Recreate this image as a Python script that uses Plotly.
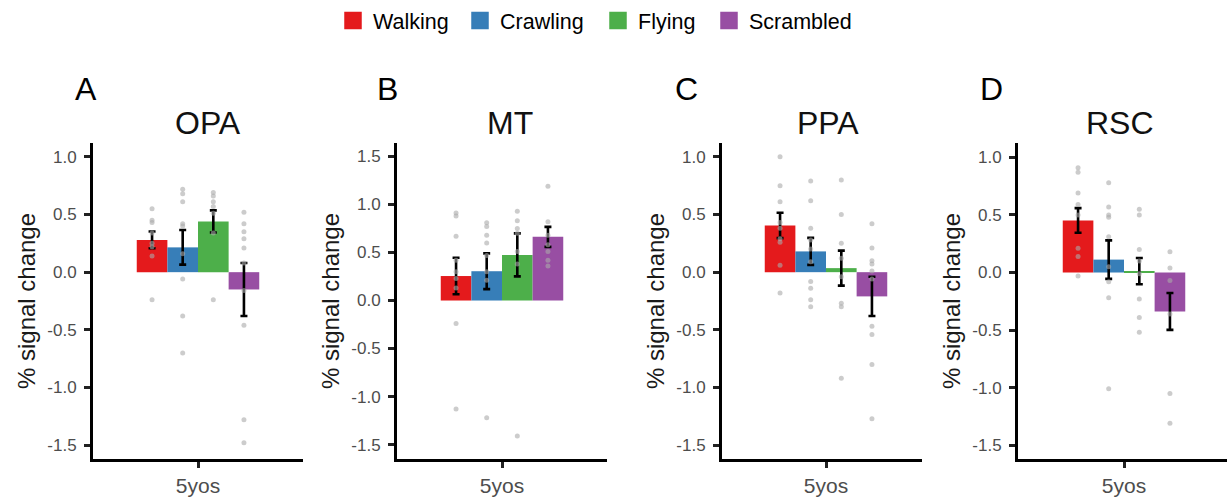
import plotly.graph_objects as go

# ---------------- data ----------------
conditions = ["Walking", "Crawling", "Flying", "Scrambled"]
condition_colors = ["#E41A1C", "#377EB8", "#4DAF4A", "#984EA3"]
rois = ["OPA", "MT", "PPA", "RSC"]
panel_letters = ["A", "B", "C", "D"]
group_label = "5yos"

means_OPA = [0.28, 0.215, 0.44, -0.15]
se_OPA = [0.073, 0.15, 0.096, 0.23]
means_MT = [0.255, 0.305, 0.475, 0.663]
se_MT = [0.19, 0.186, 0.224, 0.104]
means_PPA = [0.405, 0.18, 0.035, -0.21]
se_PPA = [0.11, 0.117, 0.152, 0.17]
means_RSC = [0.452, 0.112, 0.012, -0.338]
se_RSC = [0.107, 0.167, 0.114, 0.16]

subj_OPA = [
    [0.55, 0.45, 0.43, 0.34, 0.25, 0.22, 0.14, -0.24],
    [0.72, 0.68, 0.61, 0.42, 0.40, 0.16, -0.06, -0.38, -0.70],
    [0.69, 0.66, 0.61, 0.57, 0.51, 0.34, -0.24],
    [0.52, 0.42, 0.35, 0.29, 0.21, 0.08, -0.16, -0.46, -1.28, -1.48],
]
subj_MT = [
    [0.91, 0.88, 0.67, 0.42, 0.30, 0.23, 0.13, -0.24, -1.13],
    [0.81, 0.77, 0.68, 0.60, 0.47, 0.30, 0.21, -1.22],
    [0.93, 0.83, 0.75, 0.70, 0.51, 0.38, -1.41],
    [1.19, 0.82, 0.68, 0.58, 0.51, 0.42, 0.36],
]
subj_PPA = [
    [1.00, 0.75, 0.61, 0.43, 0.38, 0.29, 0.26, 0.06, -0.18],
    [0.79, 0.62, 0.38, 0.28, 0.20, 0.09, -0.08, -0.14, -0.24, -0.30],
    [0.80, 0.50, 0.25, 0.12, -0.04, -0.27, -0.30, -0.92],
    [0.42, 0.21, 0.10, 0.07, 0.01, -0.06, -0.47, -0.54, -0.80, -1.27],
]
subj_RSC = [
    [0.91, 0.87, 0.69, 0.59, 0.50, 0.21, 0.14, -0.03],
    [0.78, 0.57, 0.50, 0.48, 0.31, 0.05, -0.08, -0.22, -1.01],
    [0.55, 0.50, 0.20, 0.10, -0.01, -0.23, -0.39, -0.52],
    [0.18, 0.04, -0.07, -0.36, -1.05, -1.31],
]

y_ranges = [[-1.62, 1.12], [-1.65, 1.64], [-1.62, 1.12], [-1.62, 1.125]]
ytick_vals_small = [-1.5, -1.0, -0.5, 0.0, 0.5, 1.0]
ytick_text_small = ["-1.5", "-1.0", "-0.5", "0.0", "0.5", "1.0"]
ytick_vals_big = [-1.5, -1.0, -0.5, 0.0, 0.5, 1.0, 1.5]
ytick_text_big = ["-1.5", "-1.0", "-0.5", "0.0", "0.5", "1.0", "1.5"]

all_means = [means_OPA, means_MT, means_PPA, means_RSC]
all_se = [se_OPA, se_MT, se_PPA, se_RSC]
all_subj = [subj_OPA, subj_MT, subj_PPA, subj_RSC]

# ---------------- layout geometry (pixels) ----------------
W, H = 1227, 499
FONT = "Liberation Sans, Arial, Helvetica, sans-serif"
panel_px = [(93, 303, 198), (397, 607, 502), (722, 922, 826), (1018, 1227, 1124)]
px_per_unit = 175.0
plot_top_px, plot_bot_px = 143, 459
letter_x_px = [86, 387, 686, 992]
title_x_px = [207.5, 510, 828, 1120]
letter_y_px = 89
title_y_px = 123
legend_x_px = [333, 460, 598, 709]
legend_names = ["legend", "legend2", "legend3", "legend4"]

fig = go.Figure()

for p in range(4):
    sfx = "" if p == 0 else str(p + 1)
    xa, ya = "x" + sfx, "y" + sfx
    for c, cond in enumerate(conditions):
        fig.add_trace(go.Bar(
            x=[group_label], y=[all_means[p][c]],
            marker=dict(color=condition_colors[c], line=dict(width=0)),
            error_y=dict(type="data", array=[all_se[p][c]], color="black",
                         thickness=2.6, width=3.5),
            xaxis=xa, yaxis=ya, showlegend=False, name=cond,
        ))
    for c, cond in enumerate(conditions):
        vals = all_subj[p][c]
        fig.add_trace(go.Scatter(
            x=[group_label] * len(vals), y=vals, mode="markers",
            marker=dict(color="rgba(170,170,170,0.6)", size=5),
            xaxis=xa, yaxis=ya, showlegend=False, name=cond,
        ))

# legend-only entries on a hidden axis pair, one legend box per condition
for c, cond in enumerate(conditions):
    fig.add_trace(go.Scatter(
        x=[None], y=[None], mode="markers", name=cond,
        marker=dict(color=condition_colors[c], symbol="square", size=16,
                    line=dict(color=condition_colors[c], width=1.5)),
        xaxis="x5", yaxis="y5", showlegend=True, legend=legend_names[c],
    ))

layout = dict(
    width=W, height=H,
    margin=dict(l=0, r=0, t=0, b=0),
    paper_bgcolor="white", plot_bgcolor="white",
    barmode="group", bargap=0.3, bargroupgap=0,
    scattermode="group", scattergap=0.3,
    font=dict(family=FONT, color="black"),
    xaxis5=dict(domain=[0.0, 0.01], visible=False, anchor="y5"),
    yaxis5=dict(domain=[0.99, 1.0], visible=False, anchor="x5"),
)
for c in range(4):
    layout[legend_names[c]] = dict(
        orientation="h", x=legend_x_px[c] / W, xanchor="left", y=1.0, yanchor="top",
        font=dict(size=21.5, color="black"), itemwidth=30,
        bgcolor="rgba(0,0,0,0)")

ydom = [1 - plot_bot_px / H, 1 - plot_top_px / H]
annotations = []
for p in range(4):
    sfx = "" if p == 0 else str(p + 1)
    left, right, center = panel_px[p]
    xr = [-(center - left) / px_per_unit, (right - center) / px_per_unit]
    layout["xaxis" + sfx] = dict(
        domain=[left / W, min(right / W, 1.0)], anchor="y" + sfx,
        type="category", range=xr,
        showline=True, linewidth=3, linecolor="black",
        ticks="outside", ticklen=6, tickwidth=3, tickcolor="#222",
        tickfont=dict(size=21, color="#4d4d4d"), ticklabelstandoff=0,
        showgrid=False, zeroline=False,
    )
    big = p == 1
    layout["yaxis" + sfx] = dict(
        domain=ydom, anchor="x" + sfx, range=y_ranges[p],
        tickvals=ytick_vals_big if big else ytick_vals_small,
        ticktext=ytick_text_big if big else ytick_text_small,
        showline=True, linewidth=3, linecolor="black",
        ticks="outside", ticklen=6, tickwidth=3, tickcolor="#222",
        tickfont=dict(size=17, color="#4d4d4d"), ticklabelstandoff=4,
        showgrid=False, zeroline=False,
        title=dict(text="% signal change", font=dict(size=24, color="#1a1a1a"), standoff=5),
        automargin=False,
    )
    annotations.append(dict(text=panel_letters[p], x=letter_x_px[p] / W, y=1 - letter_y_px / H,
                            xref="paper", yref="paper", showarrow=False,
                            xanchor="center", yanchor="middle",
                            font=dict(size=32, color="black")))
    annotations.append(dict(text=rois[p], x=title_x_px[p] / W, y=1 - title_y_px / H,
                            xref="paper", yref="paper", showarrow=False,
                            xanchor="center", yanchor="middle",
                            font=dict(size=32, color="#111")))
layout["annotations"] = annotations
fig.update_layout(**layout)

fig.write_html("out.html", config={"displayModeBar": False},
               post_script="document.body.style.margin='0';")
